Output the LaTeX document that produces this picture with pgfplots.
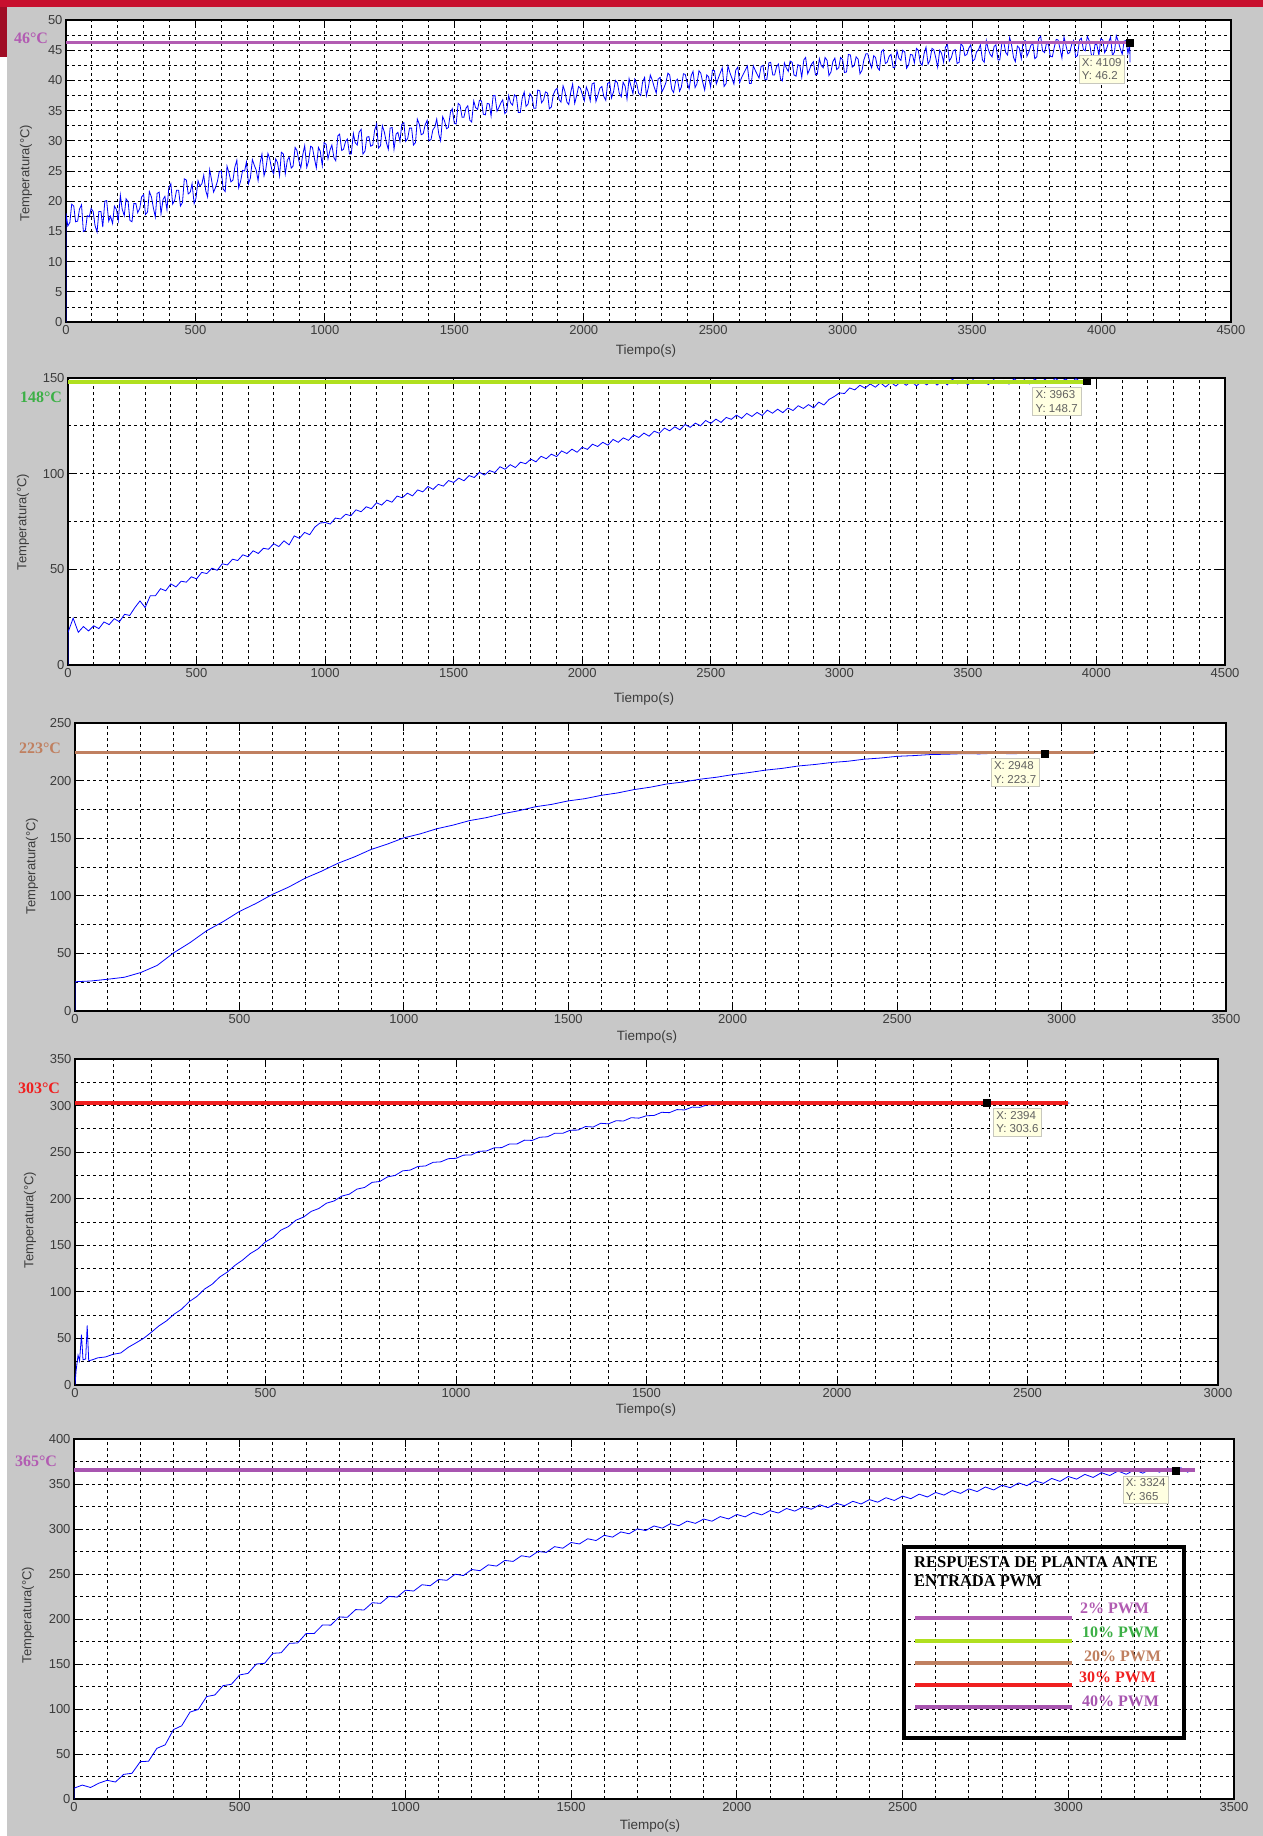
\documentclass[border=0pt]{standalone}
\usepackage{pgfplots}
\pgfplotsset{compat=1.18}
\usepackage{fontspec}
\setmainfont{Liberation Sans}
\newfontfamily\tnr{Liberation Serif}
\definecolor{bggray}{RGB}{200,200,200}
\definecolor{hdrred}{RGB}{200,16,46}
\definecolor{pur}{RGB}{178,92,178}
\definecolor{pur2}{RGB}{168,85,176}
\definecolor{lime}{RGB}{176,224,32}
\definecolor{grn}{RGB}{60,176,70}
\definecolor{brn}{RGB}{192,128,96}
\definecolor{red2}{RGB}{240,32,32}
\definecolor{tipbg}{RGB}{255,255,225}
\definecolor{tipbd}{RGB}{200,200,190}
\definecolor{ticktxt}{RGB}{60,60,60}
\tikzset{tip/.style={draw=tipbd, fill=tipbg, font=\fontsize{11.5}{13.5}\selectfont, text=black!62, align=left, inner sep=3pt}}
\pgfplotsset{
 mat/.style={
  scale only axis, anchor=south west,
  axis background/.style={fill=white},
  grid=both,
  major grid style={black, line width=0.8pt, dash pattern=on 3pt off 3pt},
  minor grid style={black, line width=0.8pt, dash pattern=on 3pt off 3pt},
  minor tick length=0pt, major tick length=8pt,
  tick align=inside, xtick pos=both, ytick pos=both,
  axis line style={black, line width=1.2pt},
  tick style={black, line width=1pt},
  tick label style={font=\fontsize{13}{15}\selectfont, text=ticktxt},
  /pgf/number format/assume math mode=true,
  scaled ticks=false,
  xticklabel style={/pgf/number format/1000 sep={}},
  yticklabel style={/pgf/number format/1000 sep={}},
  minor x tick num=4, minor y tick num=1,
 },
 dat/.style={color=blue, line width=0.8pt},
 tipmark/.style={only marks, mark=square*, mark size=3.5pt, mark options={fill=black, draw=black}},
}
\begin{document}
\begin{tikzpicture}
\path[use as bounding box] (0,0) rectangle (1263pt,-1836pt);
\fill[white] (0,0) rectangle (1263pt,-1836pt);
\fill[bggray] (7pt,-7pt) rectangle (1263pt,-1836pt);
\fill[hdrred] (0,0) rectangle (1263pt,-7pt);
\fill[hdrred!80!black] (0,-7pt) rectangle (7pt,-57pt);

% ---------- Panel 1 ----------
\begin{axis}[mat, at={(66pt,-322pt)}, width=1165pt, height=302pt,
  xmin=0, xmax=4500, ymin=0, ymax=50, xtick distance=500, ytick distance=5]
\addplot[dat] coordinates {(0,0) (0,18.0) (7,15.9) (15,16.5) (22,19.5) (30,19.2) (37,16.6) (45,16.7) (52,18.7) (60,19.4) (67,15.0) (75,15.2) (82,17.6) (90,17.4) (97,18.8) (105,18.3) (112,16.0) (120,14.9) (127,18.3) (135,18.3) (142,15.7) (150,20.0) (157,20.1) (165,16.7) (172,17.5) (180,16.3) (187,19.2) (195,18.6) (202,16.8) (210,21.0) (217,18.7) (225,17.6) (232,20.4) (240,19.9) (247,16.8) (255,16.6) (262,19.6) (270,19.6) (277,18.1) (285,18.8) (292,20.7) (300,21.1) (307,17.8) (315,18.2) (322,21.6) (330,20.7) (337,19.0) (345,17.4) (352,21.3) (360,21.5) (367,17.9) (375,20.3) (382,20.8) (390,18.6) (397,22.2) (405,22.9) (412,19.5) (420,20.2) (427,21.8) (435,21.8) (442,19.2) (450,19.8) (457,23.7) (465,23.5) (472,21.2) (480,21.5) (487,22.9) (495,19.6) (502,20.5) (510,23.4) (517,22.5) (525,22.9) (532,24.3) (540,21.7) (547,20.7) (555,25.2) (562,23.6) (570,21.5) (577,22.2) (585,23.3) (592,24.9) (600,25.0) (607,22.0) (615,21.6) (622,25.8) (630,24.6) (637,23.2) (645,23.5) (652,25.6) (660,26.8) (667,22.2) (675,23.4) (682,25.1) (690,25.0) (697,26.5) (705,22.9) (712,23.8) (720,26.9) (727,26.0) (735,25.1) (742,23.4) (750,26.4) (757,27.8) (765,24.2) (772,25.3) (780,27.9) (787,27.0) (795,25.2) (802,24.5) (810,27.0) (817,26.4) (825,24.2) (832,28.1) (840,27.8) (847,24.5) (855,26.8) (862,27.3) (870,25.5) (877,25.8) (885,28.9) (892,28.4) (900,26.6) (907,25.5) (915,27.8) (922,29.2) (930,25.6) (937,26.6) (945,29.1) (952,28.9) (960,27.0) (967,25.5) (975,28.9) (982,28.3) (990,25.9) (997,29.7) (1005,29.4) (1012,27.0) (1020,28.5) (1027,29.3) (1035,27.2) (1042,26.7) (1050,30.8) (1057,31.1) (1065,28.4) (1072,28.6) (1080,29.9) (1087,30.3) (1095,27.8) (1102,27.8) (1110,31.2) (1117,29.7) (1125,29.3) (1132,31.4) (1140,31.9) (1147,27.8) (1155,28.3) (1162,30.6) (1170,30.7) (1177,29.1) (1185,29.3) (1192,31.7) (1200,32.8) (1207,28.8) (1215,29.2) (1222,32.5) (1230,31.4) (1237,29.8) (1245,28.6) (1252,32.1) (1260,32.2) (1267,28.6) (1275,31.1) (1282,31.4) (1290,29.9) (1297,32.7) (1305,33.0) (1312,29.9) (1320,30.4) (1327,32.1) (1335,32.1) (1342,29.3) (1350,29.7) (1357,33.6) (1365,32.7) (1372,31.0) (1380,31.2) (1387,32.6) (1395,33.4) (1402,30.0) (1410,30.2) (1417,31.8) (1425,32.3) (1432,33.6) (1440,31.1) (1447,30.0) (1455,34.0) (1462,33.3) (1470,32.0) (1477,32.2) (1485,34.7) (1492,35.3) (1500,32.9) (1507,32.8) (1515,36.2) (1522,35.9) (1530,33.9) (1537,33.9) (1545,35.4) (1552,35.8) (1560,33.4) (1567,33.1) (1575,36.6) (1582,35.5) (1590,35.2) (1597,36.7) (1605,36.6) (1612,34.4) (1620,34.3) (1627,36.2) (1635,36.1) (1642,34.1) (1650,37.5) (1657,37.5) (1665,34.9) (1672,35.5) (1680,36.3) (1687,36.8) (1695,34.5) (1702,34.8) (1710,37.5) (1717,36.3) (1725,35.9) (1732,37.6) (1740,37.3) (1747,34.7) (1755,34.7) (1762,37.0) (1770,38.1) (1777,35.7) (1785,36.1) (1792,37.8) (1800,37.3) (1807,35.4) (1815,35.4) (1822,38.4) (1830,38.3) (1837,36.3) (1845,36.8) (1852,38.1) (1860,37.9) (1867,35.3) (1875,35.6) (1882,37.6) (1890,38.4) (1897,38.7) (1905,36.8) (1912,36.4) (1920,39.1) (1927,38.2) (1935,36.4) (1942,36.0) (1950,38.1) (1957,39.4) (1965,36.2) (1972,37.4) (1980,39.0) (1987,38.7) (1995,37.6) (2002,36.6) (2010,38.9) (2017,38.1) (2025,36.6) (2032,39.4) (2040,39.6) (2047,36.5) (2055,37.6) (2062,38.7) (2070,39.0) (2077,37.4) (2085,36.7) (2092,39.5) (2100,39.7) (2107,37.1) (2115,38.1) (2122,40.0) (2130,39.6) (2137,37.9) (2145,37.3) (2152,39.7) (2160,39.0) (2167,36.9) (2175,40.3) (2182,39.1) (2190,37.8) (2197,40.2) (2205,39.4) (2212,37.9) (2220,37.5) (2227,39.7) (2235,40.5) (2242,37.5) (2250,38.9) (2257,40.9) (2265,40.0) (2272,38.9) (2280,37.9) (2287,40.2) (2295,40.5) (2302,38.1) (2310,38.8) (2317,39.6) (2325,41.2) (2332,40.9) (2340,38.5) (2347,38.0) (2355,39.9) (2362,40.2) (2370,38.2) (2377,38.9) (2385,41.1) (2392,41.0) (2400,39.5) (2407,38.6) (2415,40.8) (2422,41.5) (2430,38.8) (2437,39.4) (2445,41.6) (2452,41.2) (2460,39.6) (2467,38.4) (2475,40.9) (2482,40.6) (2490,38.9) (2497,41.7) (2505,41.6) (2512,39.4) (2520,40.4) (2527,41.2) (2535,42.1) (2542,39.0) (2550,39.5) (2557,42.4) (2565,41.2) (2572,40.4) (2580,39.4) (2587,41.7) (2595,42.2) (2602,39.6) (2610,40.5) (2617,41.1) (2625,41.8) (2632,42.4) (2640,39.5) (2647,39.5) (2655,42.4) (2662,41.7) (2670,41.0) (2677,40.4) (2685,42.3) (2692,42.5) (2700,40.1) (2707,40.1) (2715,42.9) (2722,43.0) (2730,40.9) (2737,40.9) (2745,42.3) (2752,42.7) (2760,40.2) (2767,39.9) (2775,42.9) (2782,42.1) (2790,41.5) (2797,43.2) (2805,43.0) (2812,40.9) (2820,40.7) (2827,42.6) (2835,42.4) (2842,40.5) (2850,43.4) (2857,43.8) (2865,41.1) (2872,41.8) (2880,42.7) (2887,43.1) (2895,40.9) (2902,41.0) (2910,43.6) (2917,42.5) (2925,42.1) (2932,43.8) (2940,43.3) (2947,40.8) (2955,41.4) (2962,43.1) (2970,43.7) (2977,41.8) (2985,42.1) (2992,43.8) (3000,43.4) (3007,41.3) (3015,41.4) (3022,44.3) (3030,44.2) (3037,42.2) (3045,42.5) (3052,43.9) (3060,43.5) (3067,41.1) (3075,41.7) (3082,43.4) (3090,44.4) (3097,44.4) (3105,43.0) (3112,42.1) (3120,44.1) (3127,43.8) (3135,42.1) (3142,41.7) (3150,44.8) (3157,45.1) (3165,42.8) (3172,43.0) (3180,44.0) (3187,44.3) (3195,42.1) (3202,42.2) (3210,44.9) (3217,43.7) (3225,43.3) (3232,45.0) (3240,44.7) (3247,42.0) (3255,42.6) (3262,44.3) (3270,44.2) (3277,42.9) (3285,45.3) (3292,45.0) (3300,42.9) (3307,42.5) (3315,44.5) (3322,45.5) (3330,42.7) (3337,43.3) (3345,45.3) (3352,45.1) (3360,43.7) (3367,42.2) (3375,45.0) (3382,44.5) (3390,43.0) (3397,45.5) (3405,45.9) (3412,43.2) (3420,43.8) (3427,44.9) (3435,45.1) (3442,42.8) (3450,43.0) (3457,46.1) (3465,45.6) (3472,44.1) (3480,44.3) (3487,45.3) (3495,45.9) (3502,43.2) (3510,43.5) (3517,44.7) (3525,45.1) (3532,45.9) (3540,43.4) (3547,43.0) (3555,46.6) (3562,45.2) (3570,44.3) (3577,43.9) (3585,45.6) (3592,45.9) (3600,43.4) (3607,43.4) (3615,46.2) (3622,46.4) (3630,44.6) (3637,44.2) (3645,47.1) (3652,46.0) (3660,43.8) (3667,43.1) (3675,45.7) (3682,45.4) (3690,43.6) (3697,46.4) (3705,46.6) (3712,44.0) (3720,44.8) (3727,45.8) (3735,46.1) (3742,43.6) (3750,43.9) (3757,46.9) (3765,47.3) (3772,44.9) (3780,44.6) (3787,46.1) (3795,46.0) (3802,44.0) (3810,43.9) (3817,45.4) (3825,46.8) (3832,46.7) (3840,45.2) (3847,43.7) (3855,47.2) (3862,45.9) (3870,44.4) (3877,44.6) (3885,46.0) (3892,46.6) (3900,43.9) (3907,44.1) (3915,46.7) (3922,47.0) (3930,45.1) (3937,44.9) (3945,47.3) (3952,46.6) (3960,44.4) (3967,43.7) (3975,46.0) (3982,45.9) (3990,44.1) (3997,46.9) (4005,46.7) (4012,44.6) (4020,45.3) (4027,46.3) (4035,47.2) (4042,44.1) (4050,44.7) (4057,47.4) (4065,46.4) (4072,45.3) (4080,44.3) (4087,46.5) (4095,46.6) (4102,44.4) (4109,46.2) (4110,43.0)};
\addplot[color=pur, line width=3pt] coordinates {(0,46.2) (4109,46.2)};
\addplot[tipmark] coordinates {(4109,46.2)};
\node[tip, anchor=north east, xshift=-5pt, yshift=-12pt] at (axis cs:4109,46.2) {X: 4109\\Y: 46.2};
\end{axis}

% ---------- Panel 2 ----------
\begin{axis}[mat, at={(68pt,-665pt)}, width=1157pt, height=287pt,
  xmin=0, xmax=4500, ymin=0, ymax=150, xtick distance=500, ytick distance=50]
\addplot[dat] coordinates {(0,0) (0,17.0) (20,24.5) (40,17.1) (60,20.1) (80,17.8) (100,20.5) (120,19.0) (140,22.5) (160,21.1) (180,24.2) (200,22.6) (220,26.5) (240,25.9) (260,30.0) (280,33.5) (300,30.0) (320,36.2) (340,36.2) (360,39.9) (380,38.8) (400,42.4) (420,40.8) (440,43.8) (460,43.3) (480,46.1) (500,45.0) (520,48.4) (540,47.8) (560,50.6) (580,49.5) (600,52.9) (620,52.3) (640,55.3) (660,54.6) (680,57.6) (700,56.6) (720,59.7) (740,58.3) (760,61.0) (780,60.5) (800,63.4) (820,61.9) (840,64.9) (860,62.8) (880,67.5) (900,66.2) (920,69.3) (940,68.1) (960,72.1) (980,74.2) (1000,74.5) (1020,73.7) (1040,76.8) (1060,76.3) (1080,78.8) (1100,78.0) (1120,81.1) (1140,80.1) (1160,82.7) (1180,81.7) (1200,84.8) (1220,83.6) (1240,86.2) (1260,85.1) (1280,88.3) (1300,87.4) (1320,89.8) (1340,88.4) (1360,91.5) (1380,90.5) (1400,93.3) (1420,91.8) (1440,94.4) (1460,93.5) (1480,96.4) (1500,95.4) (1520,97.7) (1540,96.3) (1560,99.0) (1580,98.0) (1600,100.7) (1620,99.3) (1640,101.6) (1660,100.6) (1680,103.6) (1700,102.3) (1720,104.7) (1740,103.2) (1760,106.0) (1780,105.2) (1800,107.6) (1820,106.2) (1840,109.1) (1860,107.8) (1880,110.2) (1900,108.9) (1920,111.9) (1940,110.5) (1960,112.8) (1980,111.2) (2000,113.8) (2020,112.7) (2040,115.4) (2060,114.2) (2080,116.4) (2100,114.9) (2120,117.9) (2140,116.4) (2160,118.7) (2180,117.4) (2200,120.2) (2220,118.9) (2240,121.2) (2260,119.6) (2280,122.2) (2300,121.1) (2320,123.8) (2340,122.4) (2360,124.5) (2380,122.9) (2400,125.7) (2420,124.2) (2440,126.4) (2460,125.0) (2480,127.8) (2500,126.3) (2520,128.5) (2540,126.8) (2560,129.4) (2580,128.4) (2600,130.6) (2620,128.9) (2640,131.5) (2660,129.9) (2680,132.0) (2700,130.4) (2720,133.2) (2740,131.6) (2760,133.7) (2780,131.9) (2800,134.3) (2820,133.0) (2840,135.5) (2860,134.1) (2880,136.1) (2900,134.4) (2920,137.4) (2940,135.9) (2960,138.8) (2980,140.3) (3000,142.2) (3020,141.9) (3040,144.8) (3060,143.8) (3080,146.2) (3100,144.7) (3120,146.9) (3140,145.2) (3160,147.5) (3180,145.3) (3200,147.7) (3220,145.8) (3240,148.2) (3260,146.2) (3280,148.2) (3300,145.9) (3320,148.1) (3340,146.4) (3360,148.8) (3380,146.3) (3400,148.5) (3420,146.4) (3440,149.4) (3460,146.9) (3480,148.6) (3500,146.4) (3520,149.1) (3540,147.3) (3560,148.7) (3580,146.5) (3600,149.2) (3620,147.2) (3640,148.8) (3660,146.8) (3680,149.6) (3700,147.5) (3720,149.1) (3740,146.9) (3760,149.5) (3780,147.5) (3800,149.3) (3820,147.3) (3840,149.8) (3860,147.9) (3880,149.5) (3900,147.4) (3920,149.7) (3940,147.9) (3963,148.7) (3970,146.5)};
\addplot[color=lime, line width=4pt] coordinates {(0,148) (3963,148)};
\addplot[tipmark] coordinates {(3963,148.7)};
\node[tip, anchor=north east, xshift=-6pt, yshift=-7pt] at (axis cs:3963,148.7) {X: 3963\\Y: 148.7};
\end{axis}

% ---------- Panel 3 ----------
\begin{axis}[mat, at={(75pt,-1011pt)}, width=1151pt, height=288pt,
  xmin=0, xmax=3500, ymin=0, ymax=250, xtick distance=500, ytick distance=50]
\addplot[dat] coordinates {(0,0) (0,25.4) (50,26.1) (100,27.6) (150,29.3) (200,33.4) (250,39.6) (300,50.5) (350,59.4) (400,69.6) (450,77.5) (500,86.4) (550,93.3) (600,101.2) (650,107.6) (700,115.3) (750,121.4) (800,128.3) (850,133.8) (900,140.2) (950,144.9) (1000,150.3) (1050,153.8) (1100,158.2) (1150,161.4) (1200,165.3) (1250,167.8) (1300,171.2) (1350,173.9) (1400,177.3) (1450,179.4) (1500,182.4) (1550,184.3) (1600,187.2) (1650,189.3) (1700,192.2) (1750,194.3) (1800,197.1) (1850,198.8) (1900,201.2) (1950,202.9) (2000,205.2) (2050,207.0) (2100,209.1) (2150,210.6) (2200,212.7) (2250,214.0) (2300,215.7) (2350,216.8) (2400,218.6) (2450,219.6) (2500,221.1) (2550,221.7) (2600,222.6) (2650,222.9) (2700,223.4) (2750,223.2) (2800,223.7) (2850,223.3) (2900,223.8) (2948,223.7) (3000,223.6) (3050,224.0) (3100,223.8)};
\addplot[color=brn, line width=3pt] coordinates {(0,224.5) (3100,224.5)};
\addplot[tipmark] coordinates {(2948,223.7)};
\node[tip, anchor=north east, xshift=-5pt, yshift=-5pt] at (axis cs:2948,223.7) {X: 2948\\Y: 223.7};
\end{axis}

% ---------- Panel 4 ----------
\begin{axis}[mat, at={(75pt,-1385pt)}, width=1143pt, height=326pt,
  xmin=0, xmax=3000, ymin=0, ymax=350, xtick distance=500, ytick distance=50]
\addplot[dat] coordinates {(0,0) (3,16) (8,32) (12,26) (17,54) (21,27) (28,28) (32,64) (36,26) (45,27) (60,29.2) (80,30.1) (100,33.0) (120,34.4) (140,40.5) (160,45.2) (180,50.1) (200,56.5) (220,63.4) (240,68.8) (260,76.0) (280,81.5) (300,89.6) (320,95.1) (340,103.0) (360,108.2) (380,116.0) (400,121.3) (420,128.5) (440,134.2) (460,141.1) (480,146.0) (500,153.8) (520,158.3) (540,166.2) (560,170.1) (580,177.0) (600,180.3) (620,186.4) (640,189.5) (660,195.2) (680,197.6) (700,202.8) (720,204.9) (740,210.3) (760,212.1) (780,217.6) (800,218.5) (820,223.4) (840,225.0) (860,229.9) (880,230.8) (900,234.6) (920,235.2) (940,239.1) (960,239.6) (980,243.0) (1000,243.4) (1020,246.8) (1040,247.0) (1060,250.9) (1080,251.3) (1100,254.6) (1120,254.9) (1140,258.7) (1160,258.8) (1180,262.9) (1200,262.6) (1220,266.0) (1240,266.5) (1260,270.4) (1280,270.2) (1300,273.6) (1320,273.7) (1340,277.5) (1360,277.0) (1380,281.0) (1400,280.4) (1420,283.7) (1440,283.5) (1460,287.0) (1480,286.5) (1500,289.1) (1520,289.4) (1540,292.8) (1560,292.4) (1580,295.7) (1600,295.3) (1620,298.4) (1640,298.1) (1660,301.0) (1680,300.6) (1700,303.5) (1720,301.8) (1740,303.9) (1760,302.0) (1780,304.2) (1800,301.9) (1820,303.8) (1840,302.3) (1860,304.6) (1880,302.0) (1900,303.7) (1920,301.8) (1940,304.3) (1960,302.4) (1980,303.9) (2000,301.7) (2020,304.1) (2040,302.6) (2060,303.5) (2080,301.9) (2100,304.4) (2120,302.2) (2140,303.6) (2160,301.8) (2180,304.0) (2200,302.5) (2220,303.8) (2240,302.0) (2260,304.3) (2280,302.3) (2300,303.6) (2320,301.9) (2340,304.1) (2360,302.4) (2380,303.7) (2394,303.6) (2410,302.1) (2430,304.0) (2450,302.3) (2470,303.8) (2490,302.0) (2510,304.2) (2530,302.5) (2550,303.6) (2570,302.1) (2590,303.9) (2610,302.6)};
\addplot[color=red2, line width=4pt] coordinates {(0,303) (2606,303)};
\addplot[tipmark] coordinates {(2394,303.6)};
\node[tip, anchor=north west, xshift=6pt, yshift=-6pt] at (axis cs:2394,303.6) {X: 2394\\Y: 303.6};
\end{axis}

% ---------- Panel 5 ----------
\begin{axis}[mat, at={(74pt,-1799pt)}, width=1160pt, height=360pt,
  xmin=0, xmax=3500, ymin=0, ymax=400, xtick distance=500, ytick distance=50]
\addplot[dat] coordinates {(0,0) (0,12.0) (25,15.5) (50,12.8) (75,17.6) (100,20.8) (125,18.9) (150,27.4) (175,28.6) (200,41.5) (225,42.0) (250,56.3) (275,60.2) (300,77.1) (325,81.4) (350,96.6) (375,99.5) (400,113.8) (425,115.6) (450,126.0) (475,127.5) (500,137.9) (525,139.6) (550,150.0) (575,150.8) (600,161.9) (625,162.5) (650,173.0) (675,173.4) (700,183.8) (725,184.0) (750,193.4) (775,193.2) (800,202.2) (825,202.0) (850,210.5) (875,210.0) (900,218.1) (925,217.4) (950,225.2) (975,224.3) (1000,232.0) (1025,231.1) (1050,238.1) (1075,237.0) (1100,243.9) (1125,243.0) (1150,249.8) (1175,248.3) (1200,255.0) (1225,253.7) (1250,260.2) (1275,258.8) (1300,265.1) (1325,264.0) (1350,270.3) (1375,268.8) (1400,275.1) (1425,274.0) (1450,280.4) (1475,278.7) (1500,285.0) (1525,283.4) (1550,289.2) (1575,287.2) (1600,293.0) (1625,291.0) (1650,296.8) (1675,294.7) (1700,300.2) (1725,298.3) (1750,303.4) (1775,301.0) (1800,306.0) (1825,303.7) (1850,308.8) (1875,306.3) (1900,311.1) (1925,308.7) (1950,313.8) (1975,311.2) (2000,316.2) (2025,313.5) (2050,318.5) (2075,315.7) (2100,320.4) (2125,317.8) (2150,322.8) (2175,319.9) (2200,324.6) (2225,322.0) (2250,326.9) (2275,323.8) (2300,328.7) (2325,325.9) (2350,330.8) (2375,327.8) (2400,332.7) (2425,329.8) (2450,334.8) (2475,331.7) (2500,336.6) (2525,333.7) (2550,338.7) (2575,335.6) (2600,340.6) (2625,337.7) (2650,342.7) (2675,339.6) (2700,344.6) (2725,341.6) (2750,346.7) (2775,343.4) (2800,348.6) (2825,345.9) (2850,351.2) (2875,348.2) (2900,353.6) (2925,350.7) (2950,356.2) (2975,352.9) (3000,358.4) (3025,355.4) (3050,360.7) (3075,357.3) (3100,362.6) (3125,359.4) (3150,364.5) (3175,360.8) (3200,365.8) (3225,362.0) (3250,367.2) (3275,363.2) (3300,367.8) (3324,365.0) (3340,368.0) (3360,363.2) (3380,367.0)};
\addplot[color=pur2, line width=4pt] coordinates {(0,366) (3382,366)};
\addplot[tipmark] coordinates {(3324,365)};
\node[tip, anchor=north east, xshift=-7pt, yshift=-5pt] at (axis cs:3324,365) {X: 3324\\Y: 365};
\end{axis}

% ---------- axis labels ----------
\foreach \x/\y in {646/351, 644/699, 647/1037, 646/1410, 650/1826}
  \node[font=\fontsize{13.5}{15}\selectfont, text=ticktxt] at (\x pt,-\y pt) {Tiempo(s)};
\foreach \x/\y in {26/173, 23/522, 32/866, 30/1220, 28/1615}
  \node[font=\fontsize{13}{15}\selectfont, text=ticktxt, rotate=90] at (\x pt,-\y pt) {Temperatura(°C)};

% ---------- reference labels ----------
\node[font=\tnr\bfseries\fontsize{16}{18}\selectfont, text=pur] at (31pt,-38pt) {46°C};
\node[font=\tnr\bfseries\fontsize{16}{18}\selectfont, text=grn] at (41pt,-397pt) {148°C};
\node[font=\tnr\bfseries\fontsize{16}{18}\selectfont, text=brn] at (40pt,-748pt) {223°C};
\node[font=\tnr\bfseries\fontsize{16}{18}\selectfont, text=red2] at (39pt,-1088pt) {303°C};
\node[font=\tnr\bfseries\fontsize{16}{18}\selectfont, text=pur] at (36pt,-1461pt) {365°C};

% ---------- legend ----------
\draw[black, line width=3.5pt] (904pt,-1547pt) rectangle (1184pt,-1738pt);
\node[anchor=west, font=\tnr\bfseries\fontsize{16.5}{19}\selectfont, align=left, inner sep=0pt] at (914pt,-1572pt) {RESPUESTA DE PLANTA ANTE\\ENTRADA PWM};
\draw[pur, line width=3.5pt] (915pt,-1618pt) -- (1072pt,-1618pt);
\draw[lime, line width=3.5pt] (915pt,-1641pt) -- (1072pt,-1641pt);
\draw[brn, line width=3.5pt] (915pt,-1663pt) -- (1072pt,-1663pt);
\draw[red2, line width=3.5pt] (915pt,-1685pt) -- (1072pt,-1685pt);
\draw[pur2, line width=3.5pt] (915pt,-1707pt) -- (1072pt,-1707pt);
\node[anchor=west, inner sep=0pt, font=\tnr\bfseries\fontsize{16}{18}\selectfont, text=pur] at (1080pt,-1608pt) {2\% PWM};
\node[anchor=west, inner sep=0pt, font=\tnr\bfseries\fontsize{16}{18}\selectfont, text=grn] at (1082pt,-1632pt) {10\% PWM};
\node[anchor=west, inner sep=0pt, font=\tnr\bfseries\fontsize{16}{18}\selectfont, text=brn] at (1084pt,-1656pt) {20\% PWM};
\node[anchor=west, inner sep=0pt, font=\tnr\bfseries\fontsize{16}{18}\selectfont, text=red2] at (1079pt,-1677pt) {30\% PWM};
\node[anchor=west, inner sep=0pt, font=\tnr\bfseries\fontsize{16}{18}\selectfont, text=pur2] at (1082pt,-1701pt) {40\% PWM};
\end{tikzpicture}
\end{document}
